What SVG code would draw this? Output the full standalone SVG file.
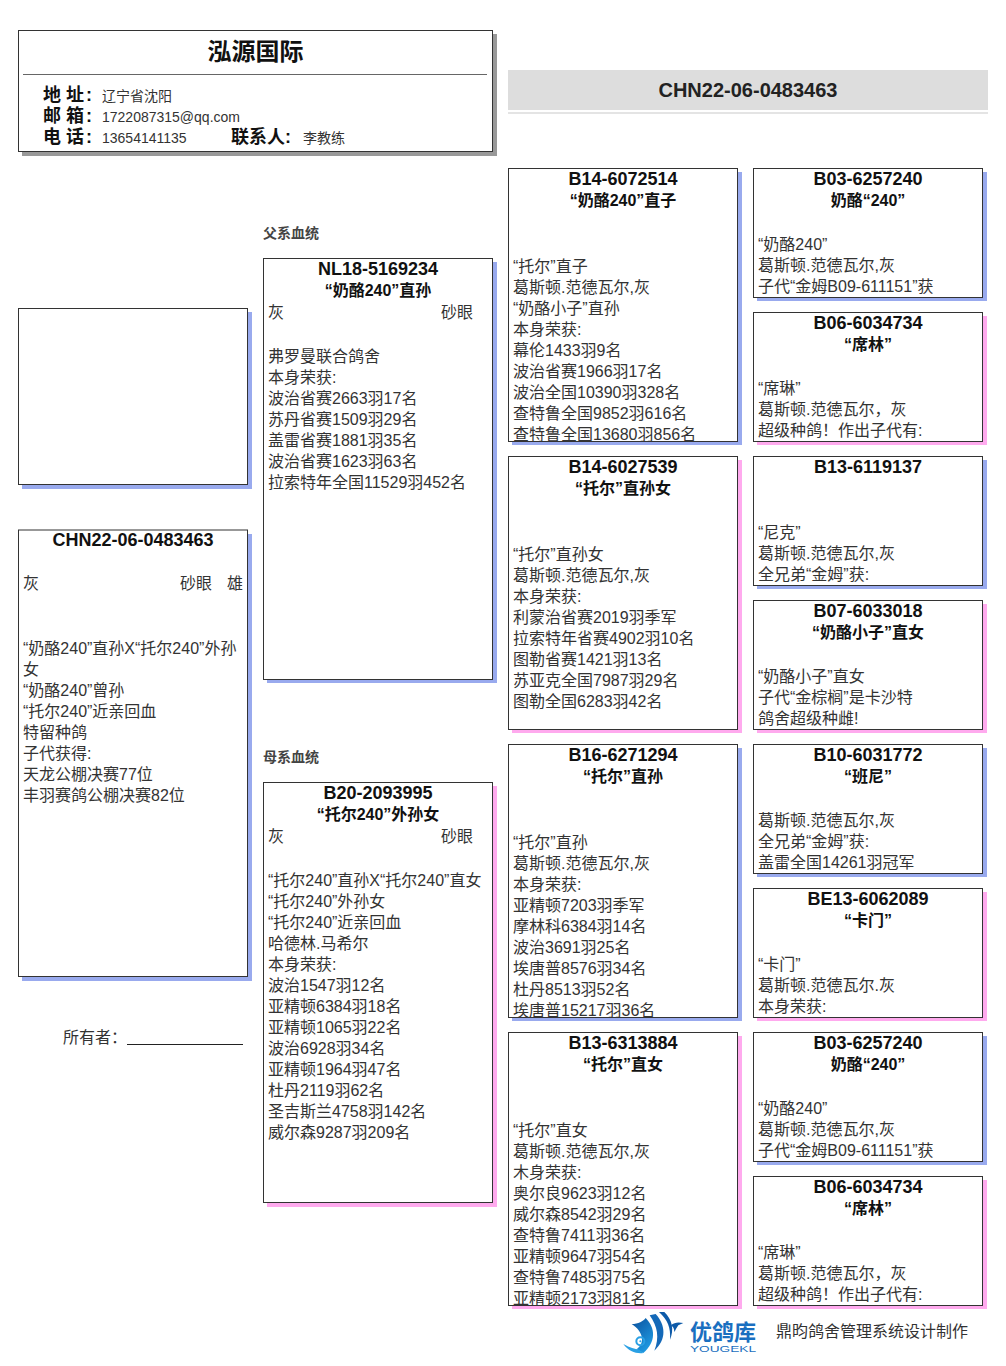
<svg xmlns="http://www.w3.org/2000/svg" width="1006" height="1366" viewBox="0 0 1006 1366">
<style>
text{font-family:"Liberation Sans","Noto Sans CJK SC",sans-serif;fill:#333;font-size:16px}
.b{fill:#111;font-weight:bold;text-anchor:middle;font-size:16px}
.i{fill:#111;font-weight:bold;text-anchor:middle;font-size:18px}
.box{fill:#fff;stroke:#333;stroke-width:1}
.blue{fill:#99aaee}.pink{fill:#ffaaee}.gray{fill:#999}
.h{fill:#111;font-weight:bold;font-size:18px}
.s{font-size:14px}
.lbl{fill:#444;font-weight:bold;font-size:14px}
.logo{font-weight:bold;fill:#1a6fc0}
</style>
<defs>
<clipPath id="c1"><rect x="508" y="168" width="230" height="273"/></clipPath>
<clipPath id="c2"><rect x="508" y="744" width="230" height="273"/></clipPath>
<clipPath id="c3"><rect x="508" y="1032" width="230" height="273"/></clipPath>
<linearGradient id="lg" x1="0" y1="0" x2="0.6" y2="1"><stop offset="0" stop-color="#0a4f9c"/><stop offset="1" stop-color="#1f9ae2"/></linearGradient>
</defs>
<g id="header">
<rect class="gray" x="22" y="34" width="475" height="122"/>
<rect class="box" x="18.500" y="30.500" width="474" height="121"/>
<line x1="23" y1="74.500" x2="487" y2="74.500" stroke="#666"/>
<text x="255.500" y="60" text-anchor="middle" style="font-size:24px;font-weight:bold;fill:#111">泓源国际</text>
<text class="h" x="43" y="101">地 址<tspan dx="2">:</tspan></text><text class="s" x="102" y="101">辽宁省沈阳</text>
<text class="h" x="43" y="122">邮 箱<tspan dx="2">:</tspan></text><text class="s" x="102" y="122">1722087315@qq.com</text>
<text class="h" x="43" y="143">电 话<tspan dx="2">:</tspan></text><text class="s" x="102" y="143">13654141135</text>
<text class="h" x="231" y="143">联系人:</text><text class="s" x="303" y="143">李教练</text>
</g>
<g id="title">
<rect x="508" y="70" width="480" height="40" fill="#ddd"/>
<rect x="508" y="112" width="480" height="2" fill="#e4e4e4"/>
<text x="748" y="97" text-anchor="middle" style="font-size:20px;font-weight:bold;fill:#222">CHN22-06-0483463</text>
</g>
<g id="photo">
<rect class="blue" x="22" y="312" width="230" height="177"/>
<rect class="box" x="18.500" y="308.500" width="229" height="176"/>
</g>
<g id="self">
<rect class="blue" x="22" y="534" width="230" height="447"/>
<rect class="box" x="18.500" y="530" width="229" height="446.500"/>
<text class="i" x="133" y="546">CHN22-06-0483463</text>
<text x="23" y="589">灰</text><text x="180" y="589">砂眼</text><text x="227" y="589">雄</text>
<text x="23" y="654">“奶酪240”直孙X“托尔240”外孙</text>
<text x="23" y="675">女</text>
<text x="23" y="696">“奶酪240”曾孙</text>
<text x="23" y="717">“托尔240”近亲回血</text>
<text x="23" y="738">特留种鸽</text>
<text x="23" y="759">子代获得:</text>
<text x="23" y="780">天龙公棚决赛77位</text>
<text x="23" y="801">丰羽赛鸽公棚决赛82位</text>
</g>
<g id="owner">
<text x="63" y="1043">所有者：</text>
<line x1="127" y1="1044.500" x2="243" y2="1044.500" stroke="#222"/>
</g>
<text class="lbl" x="263" y="238">父系血统</text>
<text class="lbl" x="263" y="762">母系血统</text>
<g id="sire">
<rect class="blue" x="267" y="262" width="230" height="421"/>
<rect class="box" x="263.500" y="258.500" width="229" height="421"/>
<text class="i" x="378" y="275">NL18-5169234</text>
<text class="b" x="378" y="296">“奶酪240”直孙</text>
<text x="268" y="318">灰</text><text x="441" y="318">砂眼</text>
<text x="268" y="362">弗罗曼联合鸽舍</text>
<text x="268" y="383">本身荣获:</text>
<text x="268" y="404">波治省赛2663羽17名</text>
<text x="268" y="425">苏丹省赛1509羽29名</text>
<text x="268" y="446">盖雷省赛1881羽35名</text>
<text x="268" y="467">波治省赛1623羽63名</text>
<text x="268" y="488">拉索特年全国11529羽452名</text>
</g>
<g id="dam">
<rect class="pink" x="267" y="786" width="230" height="421"/>
<rect class="box" x="263.500" y="782.500" width="229" height="420"/>
<text class="i" x="378" y="799">B20-2093995</text>
<text class="b" x="378" y="820">“托尔240”外孙女</text>
<text x="268" y="842">灰</text><text x="441" y="842">砂眼</text>
<text x="268" y="886">“托尔240”直孙X“托尔240”直女</text>
<text x="268" y="907">“托尔240”外孙女</text>
<text x="268" y="928">“托尔240”近亲回血</text>
<text x="268" y="949">哈德林.马希尔</text>
<text x="268" y="970">本身荣获:</text>
<text x="268" y="991">波治1547羽12名</text>
<text x="268" y="1012">亚精顿6384羽18名</text>
<text x="268" y="1033">亚精顿1065羽22名</text>
<text x="268" y="1054">波治6928羽34名</text>
<text x="268" y="1075">亚精顿1964羽47名</text>
<text x="268" y="1096">杜丹2119羽62名</text>
<text x="268" y="1117">圣吉斯兰4758羽142名</text>
<text x="268" y="1138">威尔森9287羽209名</text>
</g>
<g id="g1">
<rect class="blue" x="512" y="172" width="230" height="273"/>
<rect class="box" x="508.500" y="168.500" width="229" height="273"/>
<text class="i" x="623" y="185">B14-6072514</text>
<text class="b" x="623" y="206">“奶酪240”直子</text>
<g clip-path="url(#c1)">
<text x="513" y="272">“托尔”直子</text>
<text x="513" y="293">葛斯顿.范德瓦尔,灰</text>
<text x="513" y="314">“奶酪小子”直孙</text>
<text x="513" y="335">本身荣获:</text>
<text x="513" y="356">幕伦1433羽9名</text>
<text x="513" y="377">波治省赛1966羽17名</text>
<text x="513" y="398">波治全国10390羽328名</text>
<text x="513" y="419">查特鲁全国9852羽616名</text>
<text x="513" y="440">查特鲁全国13680羽856名</text>
</g>
</g>
<g id="g2">
<rect class="pink" x="512" y="460" width="230" height="273"/>
<rect class="box" x="508.500" y="456.500" width="229" height="273"/>
<text class="i" x="623" y="473">B14-6027539</text>
<text class="b" x="623" y="494">“托尔”直孙女</text>
<text x="513" y="560">“托尔”直孙女</text>
<text x="513" y="581">葛斯顿.范德瓦尔,灰</text>
<text x="513" y="602">本身荣获:</text>
<text x="513" y="623">利蒙治省赛2019羽季军</text>
<text x="513" y="644">拉索特年省赛4902羽10名</text>
<text x="513" y="665">图勒省赛1421羽13名</text>
<text x="513" y="686">苏亚克全国7987羽29名</text>
<text x="513" y="707">图勒全国6283羽42名</text>
</g>
<g id="g3">
<rect class="blue" x="512" y="748" width="230" height="273"/>
<rect class="box" x="508.500" y="744.500" width="229" height="273"/>
<text class="i" x="623" y="761">B16-6271294</text>
<text class="b" x="623" y="782">“托尔”直孙</text>
<g clip-path="url(#c2)">
<text x="513" y="848">“托尔”直孙</text>
<text x="513" y="869">葛斯顿.范德瓦尔,灰</text>
<text x="513" y="890">本身荣获:</text>
<text x="513" y="911">亚精顿7203羽季军</text>
<text x="513" y="932">摩林科6384羽14名</text>
<text x="513" y="953">波治3691羽25名</text>
<text x="513" y="974">埃唐普8576羽34名</text>
<text x="513" y="995">杜丹8513羽52名</text>
<text x="513" y="1016">埃唐普15217羽36名</text>
</g>
</g>
<g id="g4">
<rect class="pink" x="512" y="1036" width="230" height="273"/>
<rect class="box" x="508.500" y="1032.500" width="229" height="273"/>
<text class="i" x="623" y="1049">B13-6313884</text>
<text class="b" x="623" y="1070">“托尔”直女</text>
<g clip-path="url(#c3)">
<text x="513" y="1136">“托尔”直女</text>
<text x="513" y="1157">葛斯顿.范德瓦尔,灰</text>
<text x="513" y="1178">木身荣获:</text>
<text x="513" y="1199">奥尔良9623羽12名</text>
<text x="513" y="1220">威尔森8542羽29名</text>
<text x="513" y="1241">查特鲁7411羽36名</text>
<text x="513" y="1262">亚精顿9647羽54名</text>
<text x="513" y="1283">查特鲁7485羽75名</text>
<text x="513" y="1304">亚精顿2173羽81名</text>
</g>
</g>
<g id="ggs1">
<rect class="blue" x="757" y="172" width="230" height="129"/>
<rect class="box" x="753.500" y="168.500" width="229" height="129"/>
<text class="i" x="868" y="185">B03-6257240</text>
<text class="b" x="868" y="206">奶酪“240”</text>
<text x="758" y="250">“奶酪240”</text>
<text x="758" y="271">葛斯顿.范德瓦尔,灰</text>
<text x="758" y="292">子代“金姆B09-611151”获</text>
</g>
<g id="ggs2">
<rect class="pink" x="757" y="316" width="230" height="129"/>
<rect class="box" x="753.500" y="312.500" width="229" height="129"/>
<text class="i" x="868" y="329">B06-6034734</text>
<text class="b" x="868" y="350">“席林”</text>
<text x="758" y="394">“席琳”</text>
<text x="758" y="415">葛斯顿.范德瓦尔，灰</text>
<text x="758" y="436">超级种鸽！作出子代有:</text>
</g>
<g id="ggs3">
<rect class="blue" x="757" y="460" width="230" height="129"/>
<rect class="box" x="753.500" y="456.500" width="229" height="129"/>
<text class="i" x="868" y="473">B13-6119137</text>
<text x="758" y="538">“尼克”</text>
<text x="758" y="559">葛斯顿.范德瓦尔,灰</text>
<text x="758" y="580">全兄弟“金姆”获:</text>
</g>
<g id="ggs4">
<rect class="pink" x="757" y="604" width="230" height="129"/>
<rect class="box" x="753.500" y="600.500" width="229" height="129"/>
<text class="i" x="868" y="617">B07-6033018</text>
<text class="b" x="868" y="638">“奶酪小子”直女</text>
<text x="758" y="682">“奶酪小子”直女</text>
<text x="758" y="703">子代“金棕榈”是卡沙特</text>
<text x="758" y="724">鸽舍超级种雌!</text>
</g>
<g id="ggs5">
<rect class="blue" x="757" y="748" width="230" height="129"/>
<rect class="box" x="753.500" y="744.500" width="229" height="129"/>
<text class="i" x="868" y="761">B10-6031772</text>
<text class="b" x="868" y="782">“班尼”</text>
<text x="758" y="826">葛斯顿.范德瓦尔,灰</text>
<text x="758" y="847">全兄弟“金姆”获:</text>
<text x="758" y="868">盖雷全国14261羽冠军</text>
</g>
<g id="ggs6">
<rect class="pink" x="757" y="892" width="230" height="129"/>
<rect class="box" x="753.500" y="888.500" width="229" height="129"/>
<text class="i" x="868" y="905">BE13-6062089</text>
<text class="b" x="868" y="926">“卡门”</text>
<text x="758" y="970">“卡门”</text>
<text x="758" y="991">葛斯顿.范德瓦尔.灰</text>
<text x="758" y="1012">本身荣获:</text>
</g>
<g id="ggs7">
<rect class="blue" x="757" y="1036" width="230" height="129"/>
<rect class="box" x="753.500" y="1032.500" width="229" height="129"/>
<text class="i" x="868" y="1049">B03-6257240</text>
<text class="b" x="868" y="1070">奶酪“240”</text>
<text x="758" y="1114">“奶酪240”</text>
<text x="758" y="1135">葛斯顿.范德瓦尔,灰</text>
<text x="758" y="1156">子代“金姆B09-611151”获</text>
</g>
<g id="ggs8">
<rect class="pink" x="757" y="1180" width="230" height="129"/>
<rect class="box" x="753.500" y="1176.500" width="229" height="129"/>
<text class="i" x="868" y="1193">B06-6034734</text>
<text class="b" x="868" y="1214">“席林”</text>
<text x="758" y="1258">“席琳”</text>
<text x="758" y="1279">葛斯顿.范德瓦尔，灰</text>
<text x="758" y="1300">超级种鸽！作出子代有:</text>
</g>
<g id="logo">
<g transform="translate(615,1308) scale(0.3333)">
<path d="M50 48C70 48 85 40 92 30C122 60 124 102 85 135L64 124C92 106 85 70 50 48Z" fill="url(#lg)"/>
<path d="M104 22L122 18C152 50 156 95 118 128C134 90 128 55 104 22Z" fill="#1469b8"/>
<path d="M132 12L148 12C172 35 178 65 165 95C168 60 158 35 132 12Z" fill="#0d5aa8"/>
<path d="M168 52C178 42 192 42 205 45L190 52C184 60 182 66 178 72C178 62 174 56 168 52Z" fill="#0d5aa8"/>
<path d="M25 108C45 120 60 122 72 125L85 135C65 138 40 130 25 108Z" fill="#2aa0e4"/>
<circle cx="76" cy="100" r="12" fill="none" stroke="#2aa0e4" stroke-width="6"/>
<circle cx="76" cy="100" r="3" fill="#2aa0e4"/>
</g>
<text class="logo" x="690" y="1340" style="font-size:22px">优鸽库</text>
<text class="logo" x="690" y="1352" textLength="66" lengthAdjust="spacingAndGlyphs" style="font-size:8.500px;font-weight:normal">YOUGEKL</text>
</g>
<text id="credit" x="776" y="1337" style="font-size:16px;fill:#333">鼎昀鸽舍管理系统设计制作</text>
</svg>
